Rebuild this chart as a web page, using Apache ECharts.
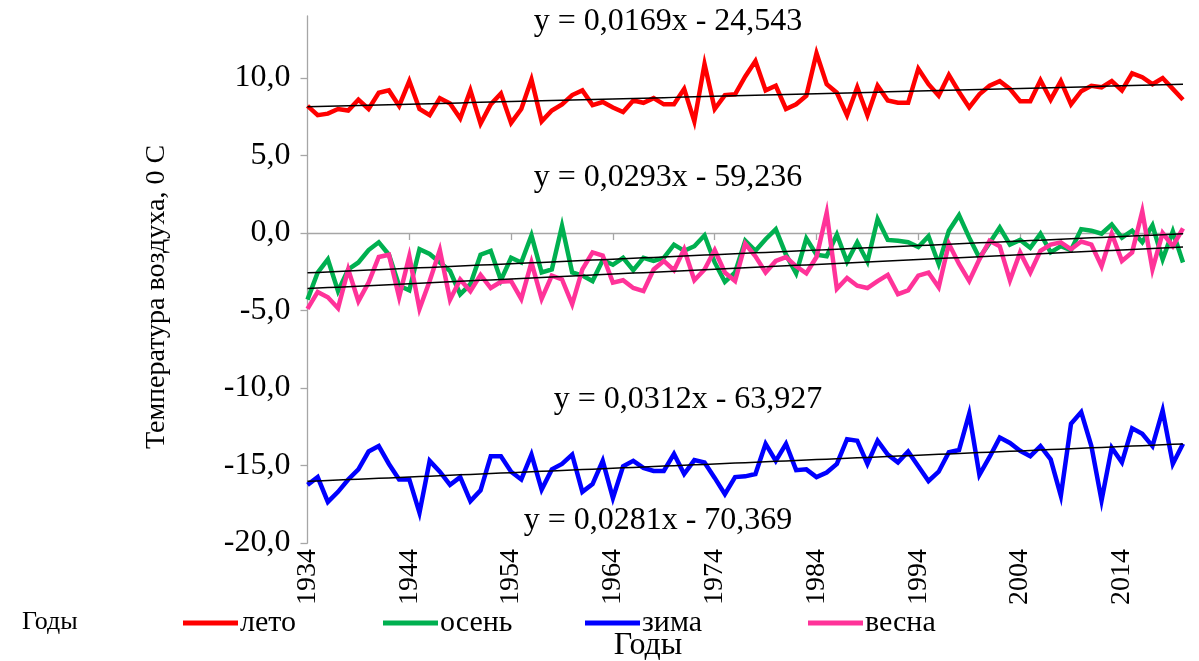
<!DOCTYPE html>
<html>
<head>
<meta charset="utf-8">
<script src="https://cdn.jsdelivr.net/npm/echarts@6/dist/echarts.min.js"></script>
<style>
html,body{margin:0;padding:0;background:#fff;}
#chart{width:1199px;height:661px;}
</style>
</head>
<body>
<div id="chart"></div>
<script>
const startYear = 1934;
const seriesNames = ['лето', 'осень', 'зима', 'весна'];
const summer = [8.2,7.6,7.7,8.0,7.9,8.6,8.0,9.05,9.2,8.2,9.8,8.0,7.6,8.7,8.35,7.4,9.2,7.05,8.3,9.0,7.1,8.0,9.9,7.2,7.9,8.3,8.9,9.2,8.25,8.45,8.1,7.8,8.55,8.4,8.7,8.3,8.3,9.3,7.2,10.9,8.0,8.9,8.95,10.1,11.1,9.2,9.5,8.0,8.3,8.85,11.6,9.6,9.05,7.6,9.4,7.6,9.5,8.55,8.4,8.4,10.6,9.6,8.85,10.2,9.1,8.1,8.95,9.5,9.8,9.3,8.5,8.5,9.85,8.6,9.8,8.3,9.15,9.5,9.4,9.8,9.2,10.3,10.05,9.6,10.0,9.3,8.6];
const autumn = [-4.3,-2.55,-1.7,-3.75,-2.35,-1.9,-1.1,-0.6,-1.4,-3.4,-3.7,-1.05,-1.35,-1.9,-2.45,-3.95,-3.3,-1.4,-1.15,-3.05,-1.6,-1.9,-0.15,-2.55,-2.35,0.45,-2.55,-2.75,-3.1,-1.75,-2.05,-1.6,-2.4,-1.6,-1.8,-1.6,-0.75,-1.15,-0.85,-0.15,-1.9,-3.15,-2.55,-0.5,-1.15,-0.4,0.25,-1.4,-2.6,-0.35,-1.4,-1.5,-0.1,-1.85,-0.6,-1.85,0.9,-0.45,-0.5,-0.6,-0.9,-0.2,-2.0,0.15,1.15,-0.3,-1.6,-0.65,0.35,-0.75,-0.45,-0.95,-0.05,-1.25,-0.85,-1.1,0.25,0.15,-0.05,0.55,-0.3,0.15,-0.6,0.5,-1.7,0.1,-1.9];
const winter = [-16.25,-15.75,-17.35,-16.7,-15.9,-15.25,-14.1,-13.75,-14.9,-15.9,-15.9,-18.05,-14.7,-15.4,-16.25,-15.75,-17.3,-16.6,-14.4,-14.4,-15.4,-15.9,-14.3,-16.55,-15.25,-14.9,-14.3,-16.7,-16.2,-14.7,-17.1,-15.05,-14.7,-15.15,-15.35,-15.35,-14.25,-15.55,-14.65,-14.8,-15.8,-16.85,-15.75,-15.7,-15.55,-13.6,-14.7,-13.6,-15.3,-15.25,-15.75,-15.45,-14.9,-13.3,-13.4,-14.9,-13.4,-14.3,-14.8,-14.1,-15.05,-16.0,-15.4,-14.15,-14.0,-11.65,-15.6,-14.45,-13.2,-13.55,-14.05,-14.4,-13.75,-14.6,-16.95,-12.3,-11.55,-13.75,-17.25,-13.85,-14.8,-12.6,-12.95,-13.75,-11.45,-14.9,-13.6];
const spring = [-4.9,-3.8,-4.15,-4.85,-2.35,-4.4,-3.2,-1.55,-1.4,-4.15,-1.5,-4.9,-3.1,-1.1,-4.3,-3.0,-3.75,-2.7,-3.55,-3.15,-3.1,-4.25,-1.9,-4.25,-2.75,-3.0,-4.6,-2.35,-1.25,-1.45,-3.2,-3.05,-3.55,-3.75,-2.35,-1.8,-2.4,-1.05,-3.05,-2.35,-1.1,-2.55,-3.1,-0.7,-1.5,-2.55,-1.8,-1.55,-2.15,-2.6,-1.55,1.3,-3.6,-2.9,-3.4,-3.55,-3.1,-2.7,-3.95,-3.7,-2.75,-2.55,-3.5,-0.7,-2.0,-3.1,-1.7,-0.5,-0.85,-3.05,-1.25,-2.55,-1.15,-0.75,-0.6,-1.05,-0.55,-0.75,-2.15,-0.05,-1.8,-1.25,1.4,-2.35,0.0,-0.85,0.3];
const trendSlopes = [0.0169, 0.0293, 0.0312, 0.0281];
const trendIntercepts = [-24.543, -59.236, -63.927, -70.369];
const trendLabels = ['y = 0,0169x - 24,543', 'y = 0,0293x - 59,236', 'y = 0,0312x - 63,927', 'y = 0,0281x - 70,369'];
const yTicks = [-20, -15, -10, -5, 0, 5, 10];
const xTickLabelsStep = 10;

const years = summer.map((_, i) => String(startYear + i));
const colors = ['#ff0000', '#00b050', '#0000ff', '#ff3399'];
const FONT = "'Liberation Serif', 'Times New Roman', serif";
const dataSets = [summer, autumn, winter, spring];

const series = [];
dataSets.forEach((d, k) => {
  series.push({
    name: seriesNames[k], type: 'line', data: d, symbol: 'none', smooth: false,
    lineStyle: {width: 4.5, color: colors[k], join: 'miter'}, itemStyle: {color: colors[k]}, z: 2 + k
  });
});
trendSlopes.forEach((s, k) => {
  series.push({
    name: 'trend' + k, type: 'line', symbol: 'none', silent: true,
    data: years.map(y => +(s * (+y) + trendIntercepts[k]).toFixed(4)),
    lineStyle: {width: 1.5, color: '#000'}, z: 10
  });
});

const legendX = [178, 378, 580, 803];
const legends = seriesNames.map((n, k) => ({
  data: [n], left: legendX[k], top: 603, itemWidth: 55, itemHeight: 5, icon: 'rect',
  textStyle: {fontFamily: FONT, fontSize: 30, color: '#000', padding: [0, 0, 0, -3]},
  selectedMode: false
}));

const eqPos = [[668, 22], [668, 178], [688, 400], [658, 521]];
const graphics = trendLabels.map((t, k) => ({
  type: 'text', x: eqPos[k][0], y: eqPos[k][1], silent: true,
  style: {text: t, font: '32px ' + FONT, fill: '#000', textAlign: 'center', textVerticalAlign: 'middle'}
}));
graphics.push({type: 'text', x: 157, y: 297, rotation: Math.PI / 2, silent: true,
  style: {text: 'Температура воздуха, 0 С', font: '28px ' + FONT, fill: '#000', textAlign: 'center', textVerticalAlign: 'middle'}});
graphics.push({type: 'text', x: 648, y: 646, silent: true,
  style: {text: 'Годы', font: '32px ' + FONT, fill: '#000', textAlign: 'center', textVerticalAlign: 'middle'}});
graphics.push({type: 'text', x: 22, y: 622, silent: true,
  style: {text: 'Годы', font: '26px ' + FONT, fill: '#000', textAlign: 'left', textVerticalAlign: 'middle'}});

const chart = echarts.init(document.getElementById('chart'), null, {renderer: 'canvas'});
chart.setOption({
  animation: false,
  backgroundColor: '#fff',
  grid: {left: 307.5, right: 16, top: 16, bottom: 118},
  legend: legends,
  xAxis: {
    type: 'category', data: years, boundaryGap: false,
    axisLine: {lineStyle: {color: '#a6a6a6', width: 1.3}},
    axisTick: {show: true, interval: xTickLabelsStep - 1, length: 7, lineStyle: {color: '#a6a6a6', width: 1.3}},
    axisLabel: {interval: xTickLabelsStep - 1, rotate: 90, color: '#000', fontFamily: FONT, fontSize: 28, margin: 6},
    splitLine: {show: false}
  },
  yAxis: {
    type: 'value', min: -20, max: 14,
    axisLine: {show: true, lineStyle: {color: '#a6a6a6', width: 1.3}},
    axisTick: {show: true, length: 7, customValues: yTicks, lineStyle: {color: '#a6a6a6', width: 1.3}},
    axisLabel: {customValues: yTicks, color: '#000', fontFamily: FONT, fontSize: 32, margin: 17,
      formatter: v => v.toFixed(1).replace('.', ',')},
    splitLine: {show: false}
  },
  series: series,
  graphic: graphics
});
</script>
</body>
</html>
